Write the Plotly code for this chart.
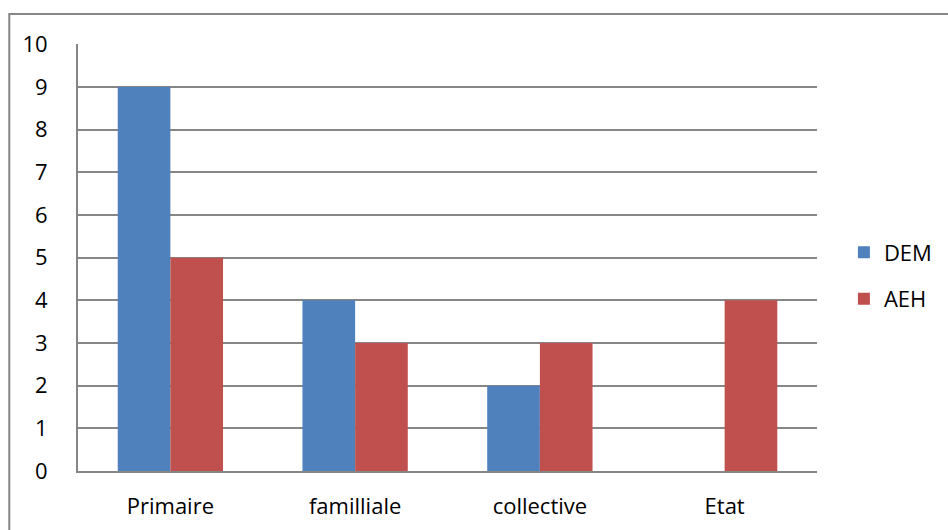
import plotly.graph_objects as go

categories = ["Primaire", "familliale", "collective", "Etat"]
dem_values = [9, 4, 2, 0]
aeh_values = [5, 3, 3, 4]
y_ticks = list(range(0, 11))

BLUE = "#4F81BD"
RED = "#C0504D"
GRID = "#868686"
FONT = "'Open Sans', sans-serif"

fig = go.Figure()
fig.add_trace(go.Bar(name="DEM", x=categories, y=dem_values, legendgroup="dem",
                     marker=dict(color=BLUE, line=dict(width=0))))
fig.add_trace(go.Bar(name="AEH", x=categories, y=aeh_values, legendgroup="aeh",
                     marker=dict(color=RED, line=dict(width=0))))

fig.update_layout(
    width=948, height=530,
    margin=dict(l=78, r=130, t=44, b=59),
    paper_bgcolor="white", plot_bgcolor="white",
    barmode="group", bargap=0.43, bargroupgap=0,
    font=dict(family=FONT, size=22, color="#000000"),
    legend=dict(x=1.035, y=0.457, xanchor="left", yanchor="middle",
                font=dict(size=22), itemwidth=30, tracegroupgap=15,
                bgcolor="rgba(0,0,0,0)"),
    showlegend=True,
)
fig.update_xaxes(showline=True, linecolor=GRID, linewidth=2, automargin=False,
                 showgrid=False, ticks="", ticklabelstandoff=15)
fig.update_yaxes(range=[0, 10.01], tickvals=y_ticks, showline=True,
                 linecolor=GRID, linewidth=2, showgrid=True, automargin=False,
                 gridcolor=GRID, gridwidth=1.5, zeroline=False,
                 ticks="", ticklabelstandoff=24)

# chart frame
fig.add_shape(type="rect", xref="paper", yref="paper",
              x0=-0.093, x1=1.5, y0=-0.5, y1=1.07,
              line=dict(color=GRID, width=2), fillcolor="rgba(0,0,0,0)",
              layer="below")

fig.write_html("out.html")
